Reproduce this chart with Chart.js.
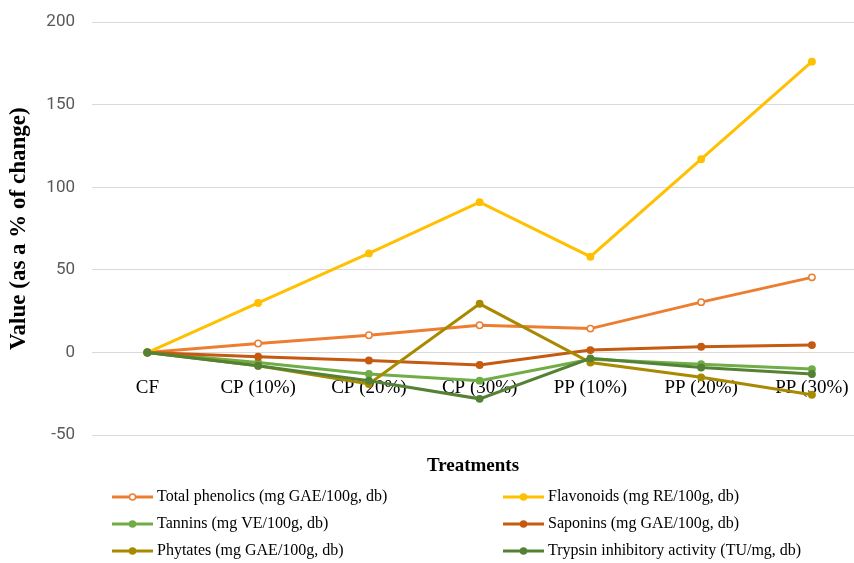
<!DOCTYPE html>
<html>
<head>
<meta charset="utf-8">
<script src="https://cdn.jsdelivr.net/npm/chart.js@4.4.0/dist/chart.umd.min.js"></script>
<style>
  html, body { margin: 0; padding: 0; background: #fff; }
  #wrap { width: 854px; height: 563px; position: relative; }
</style>
</head>
<body>
<div id="wrap"><canvas id="treatments-chart"></canvas></div>
<script>
// treatments along the x axis
const treatments = ['CF', 'CP (10%)', 'CP (20%)', 'CP (30%)', 'PP (10%)', 'PP (20%)', 'PP (30%)'];

// % change relative to CF
const totalPhenolics = [0, 5.5, 10.5, 16.5, 14.5, 30.5, 45.5];
const flavonoids = [0, 30, 60, 91, 58, 117, 176];
const tannins = [0, -6, -13, -17, -4, -7, -10];
const saponins = [0, -2.5, -4.8, -7.5, 1.5, 3.5, 4.5];
const phytates = [0, -8, -19, 29.5, -6, -15, -25.5];
const trypsin = [0, -8, -17, -28, -3.5, -9, -13];

const yTicks = [-50, 0, 50, 100, 150, 200];

const seriesNames = [
    'Total phenolics (mg GAE/100g, db)',
    'Flavonoids (mg RE/100g, db)',
    'Tannins (mg VE/100g, db)',
    'Saponins (mg GAE/100g, db)',
    'Phytates (mg GAE/100g, db)',
    'Trypsin inhibitory activity (TU/mg, db)'
];
const seriesValues = [totalPhenolics, flavonoids, tannins, saponins, phytates, trypsin];
const seriesColors = ['#ED7D31', '#FFC000', '#70AD47', '#C55A11', '#A88A00', '#548235'];

function toPoints(values) {
    return values.map((v, i) => ({ x: i, y: v }));
}

function noPadding(axis) {
    axis.paddingLeft = 0;
    axis.paddingRight = 0;
    axis.paddingTop = 0;
    axis.paddingBottom = 0;
}

const datasets = seriesNames.map((name, i) => ({
    label: name,
    data: toPoints(seriesValues[i]),
    borderColor: seriesColors[i],
    backgroundColor: seriesColors[i],
    pointBackgroundColor: i === 0 ? '#FFFFFF' : seriesColors[i],
    pointBorderColor: seriesColors[i],
    pointBorderWidth: 1.5,
    pointRadius: 3.2,
    borderWidth: 3,
    tension: 0,
    clip: false,
    // later series sit on top, like the spreadsheet
    order: seriesNames.length - i
}));

// legend in two columns under the axis title
const legendGrid = {
    id: 'legendGrid',
    afterDraw(chart) {
        const ctx = chart.ctx;
        const colX = [112, 503];
        const rowY = [497, 524, 551];
        chart.data.datasets.forEach((ds, i) => {
            const x = colX[i % 2];
            const y = rowY[Math.floor(i / 2)];
            ctx.save();
            ctx.strokeStyle = ds.borderColor;
            ctx.lineWidth = 3;
            ctx.beginPath();
            ctx.moveTo(x, y);
            ctx.lineTo(x + 41, y);
            ctx.stroke();
            ctx.beginPath();
            ctx.arc(x + 20.5, y, 3, 0, Math.PI * 2);
            ctx.fillStyle = ds.pointBackgroundColor;
            ctx.fill();
            ctx.lineWidth = 1.5;
            ctx.stroke();
            ctx.fillStyle = '#000';
            ctx.font = '16px "Liberation Serif", "DejaVu Serif", serif';
            ctx.textBaseline = 'middle';
            ctx.fillText(ds.label, x + 45, y);
            ctx.restore();
        });
    }
};

const ctx = document.getElementById('treatments-chart').getContext('2d');
const chart = new Chart(ctx, {
    type: 'line',
    data: { datasets: datasets },
    options: {
        responsive: true,
        maintainAspectRatio: false,
        animation: false,
        layout: {
            autoPadding: false,
            padding: { top: 22, right: 0, bottom: 86, left: 0 }
        },
        scales: {
            x: {
                type: 'linear',
                position: { y: 0 },
                min: -0.5,
                max: 6.38,
                afterBuildTicks: axis => {
                    axis.ticks = treatments.map((t, i) => ({ value: i }));
                },
                afterFit: noPadding,
                grid: { display: false },
                border: { display: false },
                ticks: {
                    padding: 16,
                    color: '#000',
                    autoSkip: false,
                    maxRotation: 0,
                    font: { family: '"Liberation Serif", "DejaVu Serif", serif', size: 19 },
                    callback: value => treatments[value]
                }
            },
            x2: {
                type: 'linear',
                position: 'bottom',
                min: 0,
                max: 1,
                afterFit: noPadding,
                grid: { display: false },
                border: { display: false },
                ticks: { display: false },
                title: {
                    display: true,
                    text: 'Treatments',
                    color: '#000',
                    padding: { top: 11, bottom: 0 },
                    font: { family: '"Liberation Serif", "DejaVu Serif", serif', size: 19, weight: 'bold' }
                }
            },
            y: {
                min: -50,
                max: 200,
                afterBuildTicks: axis => {
                    axis.ticks = yTicks.map(v => ({ value: v }));
                },
                afterFit: axis => {
                    noPadding(axis);
                    axis.width = 92;
                },
                grid: { color: '#D9D9D9', lineWidth: 1, drawTicks: false },
                border: { display: false },
                ticks: {
                    padding: 17,
                    color: '#595959',
                    font: { family: '"Liberation Sans Narrow", Roboto, sans-serif', size: 17 }
                },
                title: {
                    display: true,
                    text: 'Value (as a % of change)',
                    color: '#000',
                    padding: { top: 5, bottom: 0 },
                    font: { family: '"Liberation Serif", "DejaVu Serif", serif', size: 23, weight: 'bold' }
                }
            }
        },
        plugins: {
            legend: { display: false },
            tooltip: { enabled: false }
        }
    },
    plugins: [legendGrid]
});
</script>
</body>
</html>
